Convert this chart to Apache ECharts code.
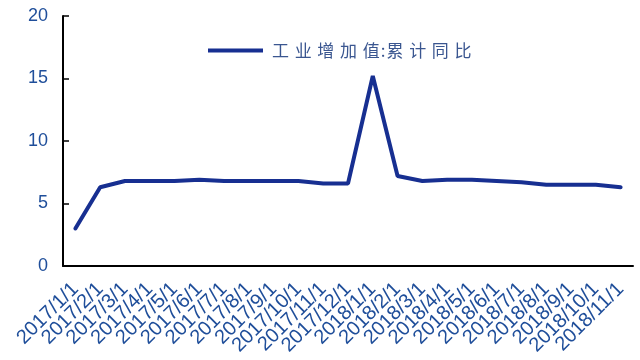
<!DOCTYPE html>
<html>
<head>
<meta charset="utf-8">
<script src="https://cdn.jsdelivr.net/npm/echarts@6/dist/echarts.min.js"></script>
<style>
  html, body { margin: 0; padding: 0; background: #ffffff; }
  #chart { width: 640px; height: 360px; }
</style>
</head>
<body>
<div id="chart"></div>
<script>
// Monthly categories (2017/1/1 – 2018/11/1)
const months = [
  '2017/1/1', '2017/2/1', '2017/3/1', '2017/4/1', '2017/5/1', '2017/6/1',
  '2017/7/1', '2017/8/1', '2017/9/1', '2017/10/1', '2017/11/1', '2017/12/1',
  '2018/1/1', '2018/2/1', '2018/3/1', '2018/4/1', '2018/5/1', '2018/6/1',
  '2018/7/1', '2018/8/1', '2018/9/1', '2018/10/1', '2018/11/1'
];

// 工业增加值:累计同比 (%)
const valueAddedYoY = [
  3.0, 6.3, 6.8, 6.8, 6.8, 6.9,
  6.8, 6.8, 6.8, 6.8, 6.6, 6.6,
  15.2, 7.2, 6.8, 6.9, 6.9, 6.8,
  6.7, 6.5, 6.5, 6.5, 6.3
];

const seriesName = '工业增加值:累计同比';
// Spaced-out legend caption
const legendCaption = '工\u2004业\u2004增\u2004加\u2004值\u200A:\u200A累\u2004计\u2004同\u2004比';

const yTicks = { min: 0, max: 20, interval: 5 };

const labelBlue = '#1F4E9A';
const lineBlue = '#172F91';

const chart = echarts.init(document.getElementById('chart'), null, { renderer: 'canvas' });

chart.setOption({
  animation: false,
  backgroundColor: '#ffffff',
  grid: { left: 63, right: 7, top: 16, bottom: 94, containLabel: false },
  legend: {
    left: 203,
    top: 37,
    icon: 'rect',
    itemWidth: 55,
    itemHeight: 4,
    data: [{ name: seriesName }],
    formatter: () => legendCaption,
    textStyle: {
      fontFamily: 'Noto Sans CJK SC',
      fontSize: 17,
      color: '#3A5690',
      padding: [0, 0, 0, 4]
    }
  },
  xAxis: {
    type: 'category',
    data: months,
    boundaryGap: true,
    axisLine: { lineStyle: { color: '#000000', width: 2 } },
    axisTick: { inside: true, length: 5, lineStyle: { color: '#000000', width: 1.5 } },
    axisLabel: {
      interval: 0,
      rotate: 45,
      margin: 20,
      fontFamily: 'Liberation Sans, Arial, sans-serif',
      fontSize: 20,
      color: labelBlue
    },
    splitLine: { show: false }
  },
  yAxis: {
    type: 'value',
    min: yTicks.min,
    max: yTicks.max,
    interval: yTicks.interval,
    axisLine: { show: true, lineStyle: { color: '#000000', width: 2 } },
    axisTick: { show: true, inside: true, length: 6, lineStyle: { color: '#000000', width: 1.5 } },
    axisLabel: {
      margin: 15,
      fontFamily: 'Liberation Sans, Arial, sans-serif',
      fontSize: 18,
      color: labelBlue
    },
    splitLine: { show: false }
  },
  series: [{
    name: seriesName,
    type: 'line',
    data: valueAddedYoY,
    showSymbol: false,
    symbol: 'none',
    lineStyle: { color: lineBlue, width: 4, join: 'bevel', cap: 'round' },
    itemStyle: { color: lineBlue }
  }]
});
</script>
</body>
</html>
